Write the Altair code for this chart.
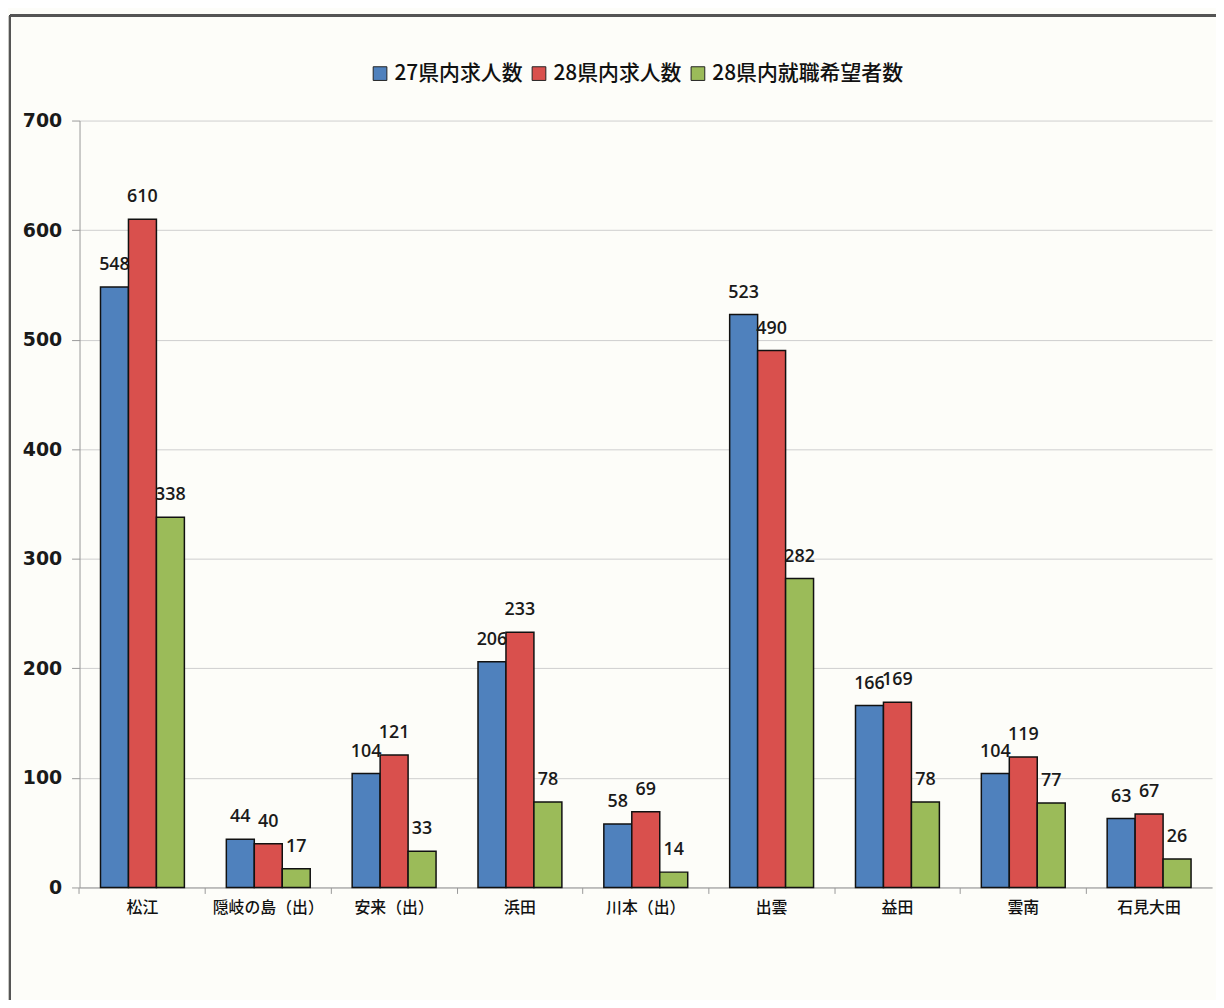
import altair as alt
import pandas as pd

categories = ["松江", "隠岐の島（出）", "安来（出）", "浜田", "川本（出）", "出雲", "益田", "雲南", "石見大田"]
series_names = ["27県内求人数", "28県内求人数", "28県内就職希望者数"]
s27_jobs = [548, 44, 104, 206, 58, 523, 166, 104, 63]
s28_jobs = [610, 40, 121, 233, 69, 490, 169, 119, 67]
s28_seekers = [338, 17, 33, 78, 14, 282, 78, 77, 26]
colors = ["#4F81BD", "#D9504D", "#9BBB59"]

rows = []
for i, c in enumerate(categories):
    for name, vals in zip(series_names, [s27_jobs, s28_jobs, s28_seekers]):
        rows.append({"地域": c, "系列": name, "値": vals[i]})
df = pd.DataFrame(rows)

x_scale = alt.Scale(domain=categories, paddingInner=1/3, paddingOuter=1/6)
y_scale = alt.Scale(domain=[0, 700])
color_scale = alt.Scale(domain=series_names, range=colors)

x_enc = alt.X("地域:N", scale=x_scale, sort=categories, title=None,
              axis=alt.Axis(labelAngle=0, labelFont="Noto Sans CJK JP", labelFontSize=16,
                            labelColor="#111", ticks=False, labelPadding=12,
                            domainColor="#999", domainWidth=1, labelFontWeight=500))
xo_enc = alt.XOffset("系列:N", sort=series_names, scale=alt.Scale(domain=series_names))
y_enc = alt.Y("値:Q", scale=y_scale, title=None,
              axis=alt.Axis(values=[0, 100, 200, 300, 400, 500, 600, 700],
                            labelFont="DejaVu Sans", labelFontSize=19, labelColor="#1a1a1a",
                            labelFontWeight=600,
                            tickSize=8, tickColor="#999", labelPadding=10,
                            domainColor="#999", gridColor="#cfcfcf", gridWidth=1))

bars = alt.Chart(df).mark_bar(stroke="#111", strokeWidth=1.5).encode(
    x=x_enc, xOffset=xo_enc, y=y_enc,
    color=alt.Color("系列:N", scale=color_scale, sort=series_names, title=None,
                    legend=alt.Legend(orient="none", legendX=292, legendY=-58,
                                      direction="horizontal", symbolType="square",
                                      symbolSize=190, symbolStrokeColor="#222",
                                      symbolStrokeWidth=1, labelFont="Noto Sans CJK JP",
                                      labelFontSize=21, labelColor="#111", labelOffset=4,
                                      labelFontWeight=500,
                                      columnPadding=6, labelLimit=400))
)

labels = alt.Chart(df).mark_text(baseline="bottom", dy=-13, font="Open Sans",
                                 fontSize=18, fontWeight=600, color="#1a1a1a").encode(
    x=alt.X("地域:N", scale=x_scale, sort=categories),
    xOffset=xo_enc,
    y=alt.Y("値:Q", scale=y_scale),
    text="値:Q",
)

main = alt.layer(bars, labels)

tick_layer = alt.Chart(df).mark_point(opacity=0).encode(
    x=alt.X("地域:N", scale=x_scale, sort=categories, title=None,
            axis=alt.Axis(orient="bottom", bandPosition=-0.25, labels=False, domain=False,
                          ticks=True, tickSize=6, tickColor="#999", grid=False)),
    y=alt.Y("値:Q", scale=y_scale),
)

frame_left = alt.Chart(df).mark_rule(color="#555", strokeWidth=2).encode(
    x=alt.value(-70), y=alt.value(-106), y2=alt.value(900))
frame_top = alt.Chart(df).mark_rule(color="#555", strokeWidth=2).encode(
    x=alt.value(-70), x2=alt.value(1144), y=alt.value(-106))

chart = alt.layer(main, tick_layer, frame_left, frame_top).resolve_axis(
    x="independent"
).properties(
    width=1140, height=772,
    autosize=alt.AutoSizeParams(type="none"),
    padding={"left": 72, "top": 110, "right": 4, "bottom": 110},
    background="#fdfdf9",
).configure_view(stroke=None)

chart.save("out.html", embed_options={"renderer": "svg", "actions": False})
